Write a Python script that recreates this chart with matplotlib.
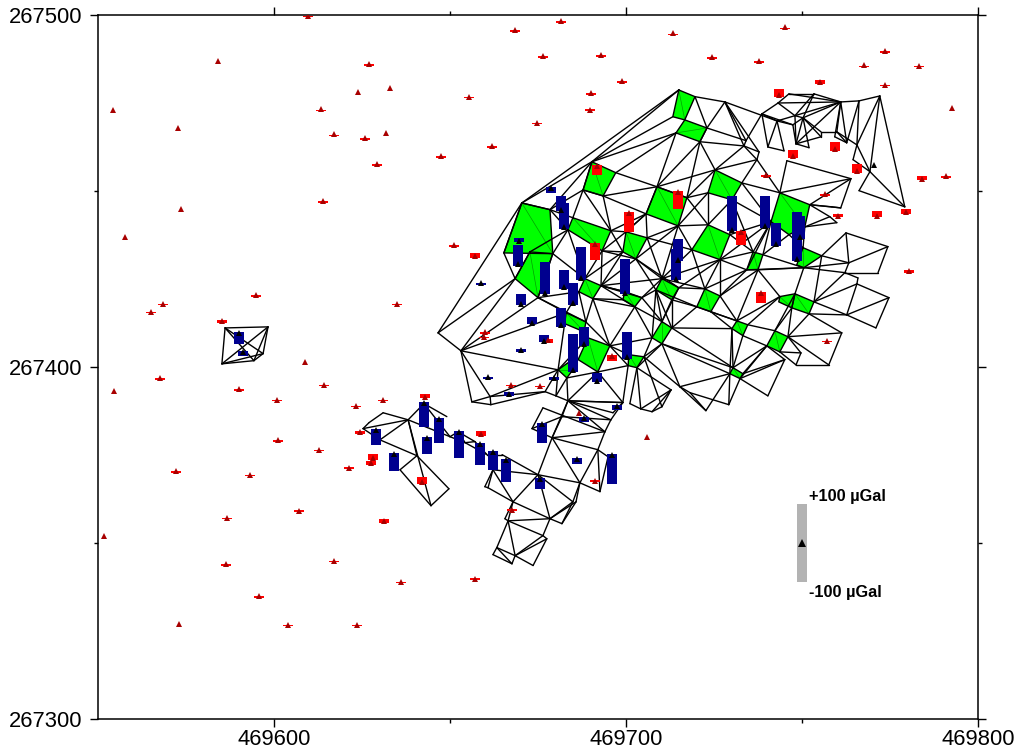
import matplotlib
matplotlib.use('Agg')
import matplotlib.pyplot as plt
import numpy as np

plt.rcParams['font.family'] = ['Liberation Sans', 'DejaVu Sans']

# coordinates are east-469000 and north-267000 in metres
x_base = 469000
y_base = 267000

# network benchmarks
node_e = [646.6, 653.1, 670.4, 665.3, 668.5, 675.0, 678.4, 690.3, 697.1, 693.5,  # 0
          687.8, 683.5, 684.9, 695.7, 693.2, 700.0, 706.0, 702.8, 699.1, 708.8,  # 10
          717.3, 714.8, 705.7, 715.0, 719.6, 716.7, 713.3, 714.2, 721.0, 723.0,  # 20
          672.7, 679.2, 688.3, 692.9, 690.6, 686.6, 710.2, 715.0, 713.0, 708.5,  # 30
          699.7, 704.5, 702.5, 699.1, 725.3, 732.9, 730.1, 723.3, 743.7, 752.2,  # 40
          750.8, 746.3, 741.2, 723.3, 729.5, 726.7, 718.7, 736.1, 738.9, 737.5,  # 50
          734.3, 750.3, 755.6, 750.5, 748.0, 753.4, 752.0, 747.1, 743.7, 722.4,  # 60
          726.7, 724.1, 720.1, 731.5, 734.6, 733.2, 730.1, 742.3, 746.0, 743.7,  # 70
          740.0, 730.4, 733.2, 732.4, 729.5, 710.2, 713.0, 710.2, 707.4, 700.8,  # 80
          705.1, 703.1, 700.6, 689.2, 695.4, 692.0, 686.4, 683.0, 688.6, 680.7,  # 90
          683.5, 683.2, 728.1, 734.1, 733.5, 738.6, 742.9, 740.3, 744.9, 743.2,  # 100
          746.3, 753.4, 761.0, 766.2, 772.1, 748.0, 750.3, 747.4, 748.3, 752.0,  # 110
          755.4, 755.4, 759.9, 762.7, 759.3, 765.6, 769.3, 764.5, 766.2, 779.2,  # 120
          737.8, 737.2, 745.7, 763.9, 761.0, 758.5, 757.9, 759.9, 762.5, 774.4,  # 130
          771.6, 763.3, 762.2, 765.9, 774.7, 765.6, 771.0, 762.7, 761.3, 757.6,  # 140
          749.7, 748.3, 745.1, 740.3, 729.2, 722.7, 718.2, 656.2, 661.4, 661.6,  # 150
          677.0, 680.1, 683.5, 696.3, 699.1, 701.1, 704.2, 707.4, 710.2, 712.8,  # 160
          715.3, 625.3, 627.0, 631.0, 638.1, 640.6, 635.8, 644.6, 649.7, 630.1,  # 170
          642.6, 649.1, 650.0, 652.3, 654.3, 657.1, 660.5, 664.8, 675.0, 686.9,  # 180
          659.9, 660.8, 662.2, 667.9, 666.5, 665.6, 678.4, 681.8, 684.9, 685.8,  # 190
          676.4, 677.5, 668.5, 673.6, 663.3, 662.2, 667.6, 676.4, 673.3, 681.8,  # 200
          679.0, 694.0, 695.7, 692.0, 692.6, 694.9, 586.1, 598.3, 585.2, 594.3,  # 210
          596.9, 591.2, 594.3, 688.1, 681.4, 684.9, 748.5, 743.4]                # 220
node_n = [409.7, 404.6, 446.6, 432.4, 425.1, 419.7, 444.7, 458.3, 455.2, 448.6,
          450.3, 439.0, 442.4, 438.7, 433.0, 438.4, 436.7, 430.7, 432.7, 451.2,
          448.1, 440.1, 443.5, 478.7, 476.8, 470.2, 471.1, 466.5, 464.0, 467.9,
          432.7, 432.2, 425.1, 423.1, 419.4, 421.4, 425.1, 422.5, 419.1, 421.9,
          421.4, 419.7, 417.1, 419.1, 456.0, 452.3, 447.5, 449.5, 449.5, 446.1,
          439.8, 437.6, 441.3, 440.4, 437.6, 430.5, 433.3, 432.7, 431.9, 427.6,
          427.6, 433.9, 431.6, 428.2, 420.8, 418.5, 415.1, 416.8, 420.0, 422.2,
          420.2, 415.7, 417.1, 413.1, 412.0, 408.9, 410.9, 410.3, 408.6, 404.3,
          406.0, 399.8, 398.1, 396.7, 398.1, 412.9, 411.1, 406.6, 408.3, 403.5,
          402.9, 399.8, 400.4, 408.3, 406.0, 398.6, 402.1, 415.4, 412.8, 399.2,
          401.2, 396.9, 475.3, 464.3, 462.8, 471.9, 469.9, 462.5, 461.4, 475.0,
          477.6, 477.6, 475.3, 475.6, 477.0, 471.4, 470.8, 468.8, 463.4, 462.3,
          466.8, 465.4, 466.8, 463.7, 465.4, 463.1, 455.5, 458.9, 450.1, 445.5,
          461.1, 458.9, 458.6, 453.5, 445.2, 445.5, 442.7, 441.0, 438.1, 434.2,
          426.8, 429.6, 426.8, 425.3, 419.7, 423.6, 411.1, 414.8, 409.7, 400.6,
          404.0, 400.6, 402.1, 391.8, 389.3, 387.6, 392.7, 390.1, 391.6, 389.3,
          393.0, 391.8, 390.4, 387.0, 389.9, 389.6, 388.1, 387.3, 388.7, 393.5,
          394.4, 382.5, 384.2, 387.0, 385.0, 374.8, 370.8, 360.6, 365.4, 379.3,
          389.6, 385.9, 380.2, 381.6, 378.5, 378.8, 375.1, 375.1, 369.4, 367.1,
          366.0, 365.7, 370.8, 361.7, 356.3, 356.9, 356.9, 355.5, 361.7, 361.7,
          352.1, 351.2, 346.4, 343.6, 348.7, 346.7, 344.1, 388.4, 382.5, 385.9,
          379.9, 381.6, 385.0, 376.5, 364.6, 374.5, 411.1, 411.4, 400.9, 401.8,
          403.8, 404.0, 404.0, 410.0, 412.8, 399.2, 429.0, 418.5]

# green quadrilaterals, as node numbers
green_quads = [(23, 24, 25, 26), (27, 25, 29, 28), (7, 8, 9, 10), (19, 20, 21, 22),
               (12, 13, 14, 11), (2, 6, 31, 3), (30, 31, 5, 4), (15, 16, 17, 18),
               (32, 33, 34, 35), (36, 37, 38, 39), (40, 41, 42, 43), (85, 86, 87, 88),
               (89, 90, 91, 92), (93, 94, 95, 96), (97, 98, 223, 224), (99, 100, 225, 101),
               (44, 45, 46, 47), (48, 49, 50, 51, 52), (53, 54, 55, 56), (57, 58, 59, 60),
               (61, 62, 63, 226), (64, 65, 66, 67), (68, 64, 67, 227), (69, 70, 71, 72),
               (73, 74, 75, 76), (77, 78, 79, 80), (81, 82, 83, 84)]

# network lines, as pairs of node numbers
edges_main = [(0, 2), (0, 1), (0, 4), (1, 4), (1, 5), (3, 4), (2, 3), (4, 30), (2, 23), (2, 7),
              (7, 23), (7, 26), (7, 27), (8, 27), (1, 97), (1, 99), (1, 158), (1, 157),
              (157, 158), (157, 159), (158, 159), (158, 160), (159, 160), (158, 99), (160, 99),
              (161, 99), (161, 101), (162, 101), (161, 162), (160, 161), (99, 97), (99, 93),
              (101, 95), (95, 92), (162, 95), (95, 164), (164, 92), (162, 164), (162, 163),
              (165, 91), (166, 91), (90, 168), (91, 169), (90, 170), (166, 169), (169, 168),
              (167, 169), (165, 166), (166, 167), (167, 168), (170, 87), (170, 155), (170, 84),
              (87, 84), (86, 81), (86, 76), (5, 31), (5, 35), (5, 97), (31, 11), (31, 32),
              (11, 32), (6, 12), (6, 10), (2, 6), (6, 7), (10, 7), (12, 10), (10, 13), (10, 9),
              (9, 13), (9, 19), (8, 19), (19, 27), (19, 28), (13, 22), (13, 15), (22, 15),
              (22, 16), (16, 21), (14, 18), (14, 15), (14, 32), (14, 33), (18, 33), (17, 33),
              (17, 36), (17, 39), (17, 37), (36, 56), (36, 55), (37, 55), (21, 56), (21, 53),
              (16, 56), (44, 19), (44, 28), (44, 104), (44, 131), (28, 104), (29, 103),
              (29, 102), (24, 102), (102, 103), (102, 104), (103, 104), (29, 28), (24, 29),
              (28, 20), (44, 20), (20, 47), (20, 53), (47, 53), (21, 47), (34, 94), (34, 98),
              (35, 98), (34, 42), (33, 42), (42, 94), (41, 85), (42, 88), (42, 85), (94, 88),
              (94, 89), (90, 88), (90, 87), (86, 39), (39, 85), (37, 85), (38, 86), (38, 72),
              (41, 39), (98, 94), (43, 34), (40, 33), (41, 36), (87, 91), (92, 94), (5, 98),
              (21, 17), (21, 36), (6, 11), (11, 30), (13, 18), (32, 18), (33, 36), (33, 41),
              (33, 40), (16, 36), (37, 69), (35, 97), (38, 85), (39, 88), (86, 72), (87, 81),
              (56, 69), (164, 163), (9, 22), (22, 19), (19, 20), (15, 22), (14, 17)]
edges_east = [(131, 45), (131, 48), (45, 48), (132, 133), (132, 48), (48, 133), (49, 133),
              (133, 134), (135, 49), (134, 49), (135, 134), (49, 136), (136, 137), (50, 137),
              (50, 136), (138, 62), (138, 141), (62, 141), (141, 139), (138, 139), (139, 140),
              (140, 142), (141, 142), (143, 145), (142, 143), (63, 142), (63, 141), (50, 61),
              (51, 61), (60, 52), (57, 52), (46, 57), (46, 52), (45, 52), (53, 46), (54, 46),
              (54, 57), (55, 57), (55, 60), (58, 63), (59, 63), (58, 52), (51, 58), (55, 70),
              (55, 69), (60, 70), (59, 73), (70, 73), (71, 73), (59, 68), (63, 64), (62, 65),
              (142, 65), (145, 65), (145, 144), (65, 147), (147, 144), (145, 147), (146, 144),
              (146, 147), (66, 147), (66, 148), (148, 78), (148, 149), (78, 149), (66, 78),
              (78, 150), (79, 150), (150, 151), (79, 151), (151, 149), (152, 80), (74, 77),
              (75, 80), (75, 81), (76, 84), (77, 64), (77, 67), (67, 78), (73, 68), (74, 68),
              (72, 73), (71, 76), (76, 81), (80, 82), (80, 81), (82, 152), (83, 152), (83, 153),
              (152, 153), (84, 154), (83, 154), (84, 155), (154, 156), (155, 156), (156, 170),
              (39, 72), (36, 69), (103, 105), (104, 130), (104, 131), (130, 131), (55, 52),
              (54, 52), (59, 70), (60, 69), (63, 60), (80, 83), (102, 130)]
edges_north = [(105, 106), (105, 107), (106, 107), (106, 108), (106, 117), (106, 115), (109, 115),
               (109, 112), (110, 112), (109, 110), (111, 112), (110, 111), (111, 116), (111, 115),
               (109, 105), (105, 117), (115, 116), (116, 112), (115, 112), (117, 116), (117, 118),
               (116, 118), (115, 118), (116, 120), (116, 121), (118, 119), (119, 116), (118, 112),
               (120, 121), (121, 118), (120, 122), (122, 112), (124, 112), (123, 112), (123, 113),
               (113, 112), (113, 114), (125, 114), (125, 113), (126, 114), (127, 125), (127, 126),
               (125, 126), (114, 129), (126, 129), (126, 128), (128, 129), (122, 123), (124, 123),
               (122, 125), (102, 106), (107, 108)]
edges_south = [(171, 174), (171, 172), (172, 173), (173, 174), (179, 175), (174, 175), (174, 177),
               (175, 178), (176, 177), (177, 178), (176, 175), (174, 180), (180, 181), (180, 182),
               (174, 182), (182, 183), (183, 184), (183, 185), (184, 185), (185, 186), (186, 187),
               (182, 184), (184, 186), (187, 188), (192, 188), (188, 189), (188, 193), (188, 196),
               (188, 198), (193, 196), (193, 192), (191, 193), (190, 192), (191, 192), (190, 191),
               (193, 195), (195, 194), (193, 194), (194, 196), (194, 200), (196, 198), (196, 199),
               (197, 198), (196, 197), (197, 199), (189, 198), (189, 199), (194, 202), (200, 202),
               (201, 202), (201, 203), (202, 203), (194, 204), (204, 202), (204, 206), (205, 206),
               (204, 205), (206, 202), (196, 200), (200, 201), (171, 179), (179, 174), (210, 211),
               (210, 213), (210, 189), (210, 188), (211, 213), (213, 189), (213, 214), (213, 215),
               (189, 214), (215, 214), (211, 212), (212, 209), (209, 208), (207, 208), (207, 211),
               (209, 210), (209, 162), (162, 164), (162, 212), (162, 211), (164, 212), (162, 210),
               (210, 208), (216, 217), (216, 218), (216, 219), (216, 220), (217, 218), (217, 220),
               (217, 219), (218, 219), (219, 220), (218, 220)]

# red stations, east, north, change in microGal
red_e = [554.3, 572.7, 573.6, 557.7, 584.1, 613.4, 617.1, 623.9, 627.0, 633.0,
         625.9, 631.8, 629.3, 613.9, 647.4, 655.4, 661.9, 674.7, 676.4, 668.4,
         681.5, 692.9, 698.8, 690.0, 689.8, 713.4, 724.5, 737.9, 745.3, 755.2,
         767.7, 773.6, 783.2, 773.6, 792.6, 609.7, 784.0, 790.9, 739.8, 756.5,
         760.2, 771.3, 779.5, 780.4, 757.0, 651.1, 657.1, 594.9, 568.5, 565.1,
         635.0, 585.2, 608.8, 567.6, 554.6, 590.1, 600.8, 614.2, 623.3, 631.0,
         601.1, 624.4, 612.8, 621.2, 627.5, 572.2, 593.2, 607.1, 586.7, 631.3,
         551.7, 586.4, 617.1, 636.1, 657.1, 595.7, 573.0, 603.9, 623.6, 705.9,
         686.6, 691.1, 667.6, 659.9, 659.6, 667.3, 675.5, 642.9, 658.8, 628.1,
         642.0, 743.4, 747.4, 759.3, 765.6, 691.7, 714.8, 700.8, 691.2, 732.6,
         738.3, 696.0, 677.8]
red_n = [473.0, 467.9, 444.9, 437.0, 487.0, 473.3, 466.2, 478.2, 486.1, 479.3,
         465.1, 466.5, 457.7, 447.2, 460.0, 476.8, 462.8, 469.4, 488.4, 495.8,
         498.3, 488.7, 481.3, 477.9, 473.1, 494.9, 488.1, 487.0, 496.6, 481.0,
         485.8, 489.8, 485.6, 480.2, 473.6, 499.8, 453.5, 454.3, 454.6, 449.2,
         443.0, 443.0, 444.1, 427.3, 407.5, 434.7, 431.6, 420.5, 418.0, 415.7,
         418.0, 413.1, 401.5, 396.9, 393.3, 393.8, 390.7, 395.0, 389.0, 390.7,
         379.3, 381.6, 376.5, 371.4, 372.8, 370.5, 369.4, 359.2, 357.2, 356.3,
         352.1, 344.1, 345.0, 339.0, 339.9, 335.0, 327.1, 326.8, 326.8, 380.2,
         387.0, 367.7, 359.5, 410.0, 408.6, 395.0, 394.7, 391.6, 381.0, 374.2,
         367.4, 477.3, 460.0, 462.0, 455.7, 457.2, 449.8, 443.8, 435.0, 438.4,
         421.1, 403.2, 407.7]
red_dg = [0, 0, 0, 0, 0, 3, 3, 0, 4, 0,
          3, 0, 4, 4, 4, 4, 4, 4, 4, 4,
          4, 3, 5, 5, 5, 3, 4, 4, 3, 10,
          3, 3, 4, 3, 0, 4, 10, 4, 4, 4,
          8, 15, 12, 8, 4, 4, 12, 5, 4, 4,
          3, 6, 0, 4, 0, 4, 4, 3, 4, 3,
          4, 6, 5, 5, 8, 3, 3, 5, 3, 8,
          0, 3, 4, 4, 5, 3, 0, 3, 3, 0,
          0, 5, 6, 4, 4, 4, 4, 12, 12, 13,
          17, 20, 20, 22, 22, -25, -46, -51, -43, -35,
          -28, -15, -10]

# blue stations
blue_e = [678.7, 681.5, 682.4, 669.6, 669.3, 677.0, 682.4, 684.9, 687.2, 699.7,
          714.8, 714.2, 670.2, 673.3, 681.5, 676.7, 688.1, 700.3, 684.9, 670.2,
          660.8, 666.8, 679.5, 691.7, 697.4, 688.1, 629.0, 634.1, 642.6, 646.9,
          643.5, 652.6, 658.5, 662.2, 665.9, 675.6, 676.1, 686.1, 696.0, 730.1,
          739.5, 742.6, 749.4, 748.5, 590.1, 591.2, 658.8]
blue_n = [450.9, 444.7, 439.8, 435.9, 429.3, 421.1, 422.8, 418.2, 425.3, 421.1,
          430.5, 425.1, 418.0, 412.6, 412.0, 407.5, 406.6, 402.9, 399.2, 404.9,
          397.2, 392.4, 396.9, 396.1, 389.0, 385.6, 382.2, 375.4, 389.9, 385.3,
          379.9, 381.6, 378.2, 375.9, 373.7, 368.3, 383.9, 373.9, 375.1, 439.0,
          440.1, 435.0, 437.0, 430.7, 409.7, 404.3, 423.9]
blue_dg = [-15, 40, 65, 12, 53, 81, 46, 56, 84, 91,
           56, 79, 30, 20, 46, 18, 46, 68, 94, 6,
           4, 8, 8, 25, -12, -12, -40, -45, -63, -63,
           -43, -68, -56, -48, -58, -28, -50, -15, -75, 91,
           81, 56, 56, 124, -30, -12, 3]

# station with no bar
plain_e = [770.4]
plain_n = [457.4]

m_per_ugal = 0.1122
bar_width = 2.84

xtick_major = [469600, 469700, 469800]
xtick_minor = [469650, 469750]
ytick_major = [267300, 267400, 267500]
ytick_minor = [267350, 267450]

fig = plt.figure(figsize=(10.18, 7.54), dpi=100)
ax = fig.add_axes([98 / 1018, 1 - 719 / 754, 880 / 1018, 704 / 754])
ax.set_xlim(469550, 469800)
ax.set_ylim(267300, 267500)


def draw_bars(e, n, dg, color):
    for x, y, d in zip(e, n, dg):
        if d == 0:
            continue
        base = y - 0.5 if d > 0 else y + 0.2
        ax.bar(x_base + x, d * m_per_ugal, bottom=y_base + base, width=bar_width,
               color=color, linewidth=0, zorder=4)


node_x = x_base + np.array(node_e)
node_y = y_base + np.array(node_n)

for quad in green_quads:
    ids = list(quad)
    ax.fill(node_x[ids], node_y[ids], color='#00ff00', linewidth=0, zorder=1)
    ax.plot(node_x[[ids[0], ids[2]]], node_y[[ids[0], ids[2]]], color='#00a000', lw=0.5, zorder=2)
    ax.plot(node_x[ids + ids[:1]], node_y[ids + ids[:1]], color='black', lw=1.0, zorder=3)

for group in [edges_main, edges_east, edges_north, edges_south]:
    for a, b in group:
        ax.plot(node_x[[a, b]], node_y[[a, b]], color='black', lw=1.0, zorder=3,
                solid_capstyle='round')

draw_bars(red_e, red_n, red_dg, '#ff0000')
draw_bars(blue_e, blue_n, blue_dg, '#00008f')

ax.plot(x_base + np.array(red_e), y_base + np.array(red_n), '^', color='#a80000', ms=4.2,
        mew=0, zorder=5)
ax.plot(x_base + np.array(blue_e), y_base + np.array(blue_n), '^', color='black', ms=4.8,
        mew=0, zorder=5)
ax.plot(x_base + np.array(plain_e), y_base + np.array(plain_n), '^', color='black', ms=4.5,
        mew=0, zorder=5)

# scale bar
ax.bar(469750, 200 * m_per_ugal, bottom=267350 - 100 * m_per_ugal, width=bar_width,
       color='#b3b3b3', linewidth=0, zorder=4)
ax.plot([469750], [267350], '^', color='black', ms=6, mew=0, zorder=5)
ax.text(469752, 267361.1, '+100 \u00b5Gal', fontsize=11.8, fontweight='bold', va='bottom', ha='left')
ax.text(469752, 267338.1, '-100 \u00b5Gal', fontsize=11.8, fontweight='bold', va='top', ha='left')

ax.set_xticks(xtick_major)
ax.set_xticks(xtick_minor, minor=True)
ax.set_yticks(ytick_major)
ax.set_yticks(ytick_minor, minor=True)
ax.set_xticklabels([str(v) for v in xtick_major], fontsize=15.8)
ax.set_yticklabels([str(v) for v in ytick_major], fontsize=15.8)
ax.tick_params(which='major', direction='out', length=6, width=1, top=True, right=True)
ax.tick_params(which='minor', direction='out', length=3, width=1, top=True, right=True)
ax.tick_params(axis='x', which='major', pad=1.5)
ax.tick_params(axis='y', which='major', pad=5)
for s in ax.spines.values():
    s.set_linewidth(1.1)

fig.savefig('out.png', dpi=100)
